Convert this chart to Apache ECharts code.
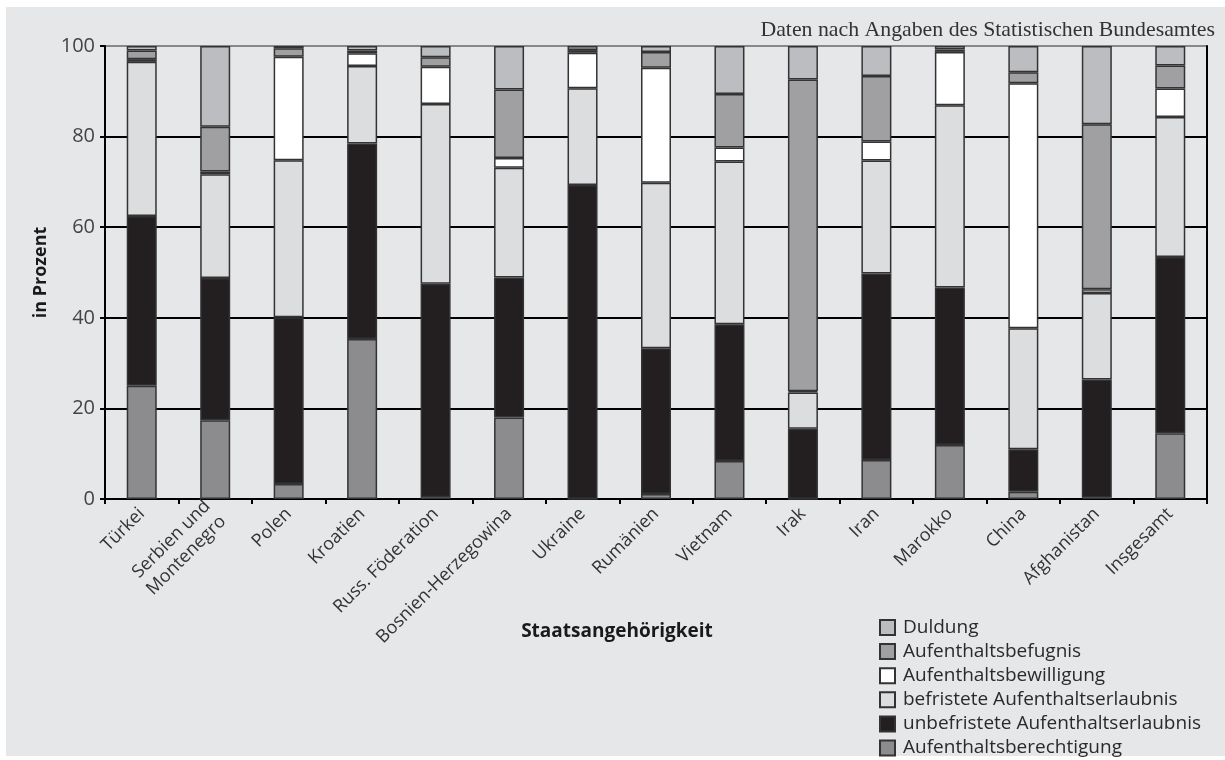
<!DOCTYPE html>
<html><head><meta charset="utf-8">
<script src="https://cdn.jsdelivr.net/npm/echarts@6/dist/echarts.min.js"></script>
<style>html,body{margin:0;padding:0;background:#fff}#c{width:1225px;height:760px}</style>
</head><body><div id="c"></div>
<script>
const categories = ['Türkei','Serbien und\nMontenegro','Polen','Kroatien','Russ. Föderation','Bosnien-Herzegowina','Ukraine','Rumänien','Vietnam','Irak','Iran','Marokko','China','Afghanistan','Insgesamt'];
const berechtigung = [25.0,17.4,3.3,35.3,0.4,18.0,0.0,1.1,8.4,0.0,8.6,11.9,1.6,0.3,14.5];
const unbefristete = [37.5,31.4,36.8,43.2,47.1,30.9,69.3,32.2,30.2,15.5,41.2,34.8,9.4,26.1,38.9];
const befristete   = [34.0,22.9,34.7,17.1,39.7,24.2,21.4,36.5,35.9,8.0,24.9,40.2,26.7,19.1,30.9];
const bewilligung  = [0.6,0.6,22.8,2.8,8.2,2.2,7.8,25.4,3.1,0.3,4.2,11.8,54.1,0.8,6.3];
const befugnis     = [1.9,9.9,1.9,0.6,2.1,15.1,0.6,3.5,11.8,68.8,14.5,0.5,2.4,36.4,5.1];
const duldung      = [1.0,17.8,0.5,1.0,2.5,9.6,0.9,1.3,10.6,7.4,6.6,0.8,5.8,17.3,4.3];
const yTicks = [0,20,40,60,80,100];

const seriesDefs = [
  ['Aufenthaltsberechtigung', berechtigung, '#8c8c8e'],
  ['unbefristete Aufenthaltserlaubnis', unbefristete, '#231f20'],
  ['befristete Aufenthaltserlaubnis', befristete, '#dcdddf'],
  ['Aufenthaltsbewilligung', bewilligung, '#ffffff'],
  ['Aufenthaltsbefugnis', befugnis, '#a0a0a2'],
  ['Duldung', duldung, '#bcbdc0']
];
const font = 'Open Sans';
const chart = echarts.init(document.getElementById('c'));
chart.setOption({
  backgroundColor: '#ffffff',
  animation: false,
  graphic: [{type:'rect', z:-10, silent:true, shape:{x:6,y:7,width:1219,height:749}, style:{fill:'#e6e7e9'}}],
  title: [
    {text:'Daten nach Angaben des Statistischen Bundesamtes', right:5, top:14,
     textStyle:{fontFamily:'Liberation Serif', fontSize:21.8, fontWeight:'normal', color:'#333'}},
    {text:'Staatsangehörigkeit', left:612, top:617, textAlign:'center',
     textStyle:{fontFamily:font, fontSize:19, fontWeight:'bold', color:'#1a1a1a'}}
  ],
  legend: {
    orient:'vertical', left:879, top:618, height:142, padding:0,
    itemWidth:15, itemHeight:15, itemGap:5.1,
    data:['Duldung','Aufenthaltsbefugnis','Aufenthaltsbewilligung','befristete Aufenthaltserlaubnis','unbefristete Aufenthaltserlaubnis','Aufenthaltsberechtigung'],
    icon:'rect',
    textStyle:{fontFamily:font, fontSize:19, lineHeight:19, color:'#2a2a2a', padding:[0,0,0,3]}
  },
  grid: {left:105, right:18, top:46, bottom:261, containLabel:false},
  xAxis: {
    type:'category', data:categories,
    axisLine:{lineStyle:{color:'#000', width:2}},
    axisTick:{show:true, length:5, lineStyle:{color:'#000', width:2}},
    axisLabel:{rotate:45, fontFamily:font, fontSize:18, color:'#333', margin:12, interval:0, lineHeight:22}
  },
  yAxis: [{
    type:'value', min:0, max:100, interval:20,
    name:'in Prozent', nameLocation:'middle', nameGap:54,
    nameTextStyle:{fontFamily:font, fontSize:18, fontWeight:'bold', color:'#1a1a1a'},
    axisLine:{show:true, lineStyle:{color:'#000', width:2}},
    axisTick:{show:true, length:5, lineStyle:{color:'#000', width:2}},
    axisLabel:{fontFamily:font, fontSize:20, color:'#444', margin:10,
      formatter: v => yTicks.includes(v) ? String(v) : ''},
    splitLine:{show:true, lineStyle:{color:['#000','#000','#000','#000','#000','#888'], width:2}}
  },{
    type:'value', min:0, max:100, position:'right',
    axisLine:{show:true, lineStyle:{color:'#000', width:2}},
    axisTick:{show:false}, axisLabel:{show:false}, splitLine:{show:false}
  }],
  series: seriesDefs.map(([name, data, color]) => ({
    name, type:'bar', stack:'total', data, barWidth:30,
    itemStyle:{color, borderColor:'#333', borderWidth:1.5}
  }))
});
</script></body></html>
